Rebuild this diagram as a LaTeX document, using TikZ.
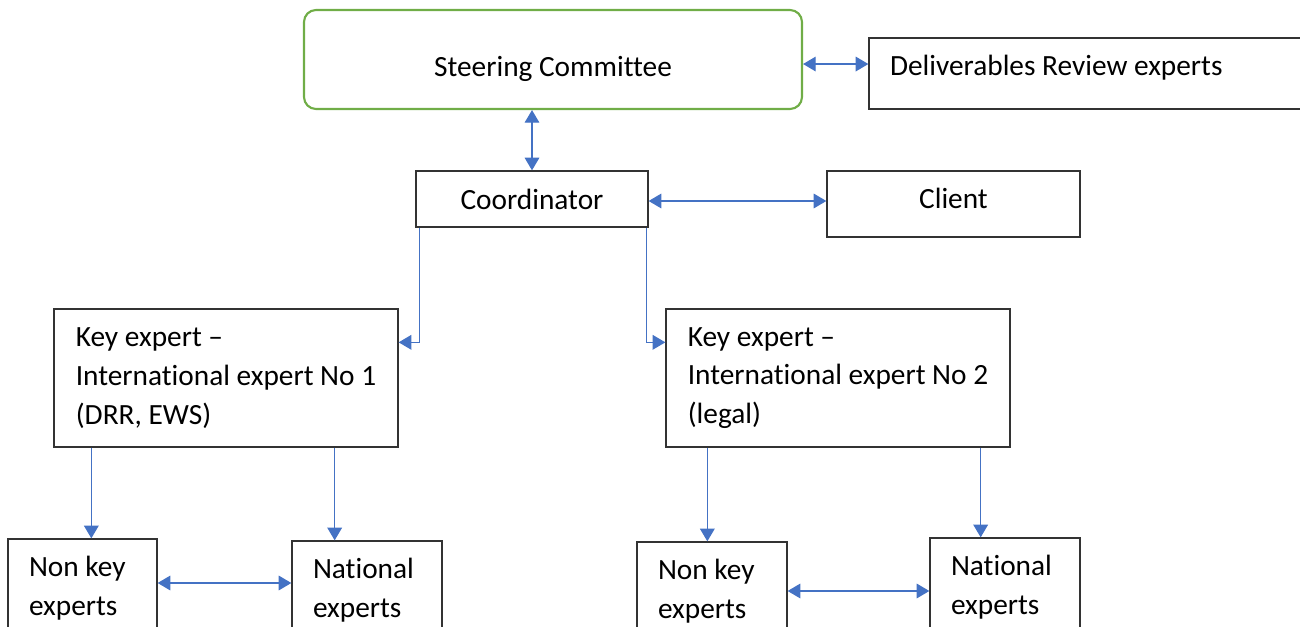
\documentclass[tikz,border=0pt]{standalone}
\usepackage{fontspec}
\setmainfont{Carlito}[Ligatures=NoCommon]
\usepackage{tikz}
\usetikzlibrary{arrows.meta,calc,positioning}
\definecolor{linkblue}{HTML}{4472C4}
\definecolor{boxgreen}{HTML}{70AD47}
\tikzstyle{link} = [draw=linkblue, line width=0.9pt, -{Triangle[length=9.5pt,width=11pt]}]
\tikzstyle{bilink} = [draw=linkblue, line width=0.9pt, {Triangle[length=9.5pt,width=11pt]}-{Triangle[length=9.5pt,width=11pt]}]

\begin{document}
\begin{tikzpicture}[x=0.75pt,y=-0.75pt]
\tikzset{box/.style={draw=black!80,line width=1pt,inner sep=0pt,font=\fontsize{22}{29}\selectfont},
leftbox/.style={box,align=flush left,inner xsep=15.75pt}}
\useasboundingbox (0,0) rectangle (1300,627);

\node[box,draw=boxgreen,line width=1.6pt,rounded corners=9pt,minimum width=373.5pt,minimum height=74.25pt,text height=29.5pt,text depth=4.5pt] (steer) at (553,59.5) {Steering Committee};
\node[leftbox,text width=306.75pt,minimum height=53.25pt,text height=14.5pt,text depth=12pt] (deliv) at (1094.5,73.5) {Deliverables Review experts};
\node[box,minimum width=174pt,minimum height=42pt] (coord) at (532,199) {Coordinator};
\node[box,minimum width=189.75pt,minimum height=49.5pt,text height=14.5pt,text depth=7.5pt] (client) at (953.5,204) {Client};

\node[box,align=flush left,minimum width=258pt,minimum height=103.5pt] (keyA) at (226,378) {Key expert --\\International expert No 1\\(DRR, EWS)};
\node[box,align=flush left,minimum width=258pt,minimum height=103.5pt] (keyB) at (838,378) {Key expert --\\International expert No 2\\(legal)};

\node[leftbox,text width=80.25pt,minimum height=73.5pt] (nonA) at (82.5,588) {Non key\\experts};
\node[leftbox,text width=81pt,minimum height=73.5pt] (natA) at (367,590) {National\\experts};
\node[leftbox,text width=81pt,minimum height=73.5pt] (nonB) at (712,591) {Non key\\experts};
\node[leftbox,text width=81pt,minimum height=73.5pt] (natB) at (1005,587) {National\\experts};

% top level
\draw[bilink] ([yshift=-3.4pt]steer.east) coordinate (s1) -- (s1 -| deliv.west);
\draw[bilink] (coord.north) -- (coord.north |- steer.south);
\draw[bilink] ([yshift=-1.5pt]coord.east) coordinate (c1) -- (c1 -| client.west);

% coordinator to key experts
\draw[link] ([xshift=3pt]coord.south west) |- ([yshift=-25.5pt]keyA.north east);
\draw[link] ([xshift=-1.5pt]coord.south east) |- ([yshift=-25.5pt]keyB.north west);

% key experts to teams
\draw[link] ([xshift=28.5pt]keyA.south west) coordinate (a1) -- (a1 |- nonA.north);
\draw[link] ([xshift=-48pt]keyA.south east) coordinate (a2) -- (a2 |- natA.north);
\draw[link] ([xshift=31.5pt]keyB.south west) coordinate (b1) -- (b1 |- nonB.north);
\draw[link] ([xshift=-22.5pt]keyB.south east) coordinate (b2) -- (b2 |- natB.north);

\draw[bilink] ([yshift=3.75pt]nonA.east) coordinate (n1) -- (n1 -| natA.west);
\draw[bilink] (nonB.east) -- (nonB.east -| natB.west);

\end{tikzpicture}
\end{document}
